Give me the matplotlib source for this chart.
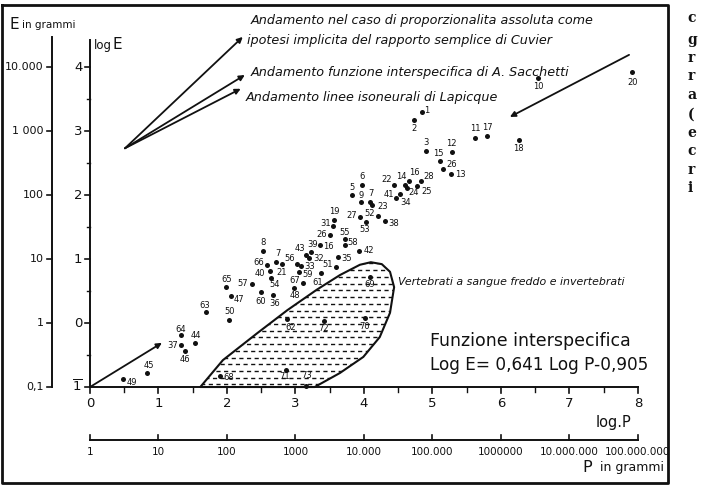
import matplotlib
matplotlib.use('Agg')
import matplotlib.pyplot as plt
from matplotlib.patches import Polygon
import numpy as np

# specie (numero), log P (peso corporeo in g), log E (peso encefalo in g)
labels = ['20', '10', '18', '11', '17', '1', '2', '3', '12', '15', '26', '13', '16', '14', '22',
          '28', '25', '24', '41', '34', '6', '5', '9', '7', '23', '19', '31', '27', '52', '53',
          '38', '26', '55', '58', '42', '16', '39', '43', '32', '35', '51', '56', '33', '59', '67',
          '61', '48', '8', '7', '66', '21', '40', '54', '57', '65', '47', '60', '36', '50', '63',
          '62', '72', '69', '70', '68', '71', '73', '44', '64', '37', '46', '45', '49']
log_p = [7.91, 6.54, 6.26, 5.62, 5.80, 4.85, 4.73, 4.91, 5.28, 5.11, 5.15, 5.27, 4.66, 4.60, 4.44,
         4.83, 4.77, 4.63, 4.53, 4.47, 3.97, 3.82, 3.96, 4.09, 4.12, 3.56, 3.55, 3.94, 4.20, 4.03,
         4.31, 3.50, 3.72, 3.72, 3.93, 3.36, 3.23, 3.15, 3.20, 3.62, 3.59, 3.02, 3.08, 3.05, 3.11,
         3.37, 2.98, 2.53, 2.72, 2.58, 2.80, 2.63, 2.64, 2.36, 1.99, 2.06, 2.50, 2.67, 2.03, 1.69,
         2.88, 3.42, 4.09, 4.01, 1.90, 2.86, 3.15, 1.53, 1.33, 1.33, 1.39, 0.83, 0.48]
log_e = [3.92, 3.83, 2.86, 2.89, 2.92, 3.30, 3.17, 2.69, 2.67, 2.53, 2.41, 2.33, 2.22, 2.16, 2.16,
         2.22, 2.14, 2.11, 2.02, 1.95, 2.16, 2.00, 1.89, 1.89, 1.84, 1.61, 1.52, 1.66, 1.67, 1.58,
         1.59, 1.38, 1.31, 1.22, 1.13, 1.22, 1.11, 1.06, 1.02, 1.03, 0.88, 0.92, 0.89, 0.80, 0.63,
         0.78, 0.55, 1.13, 0.95, 0.91, 0.92, 0.81, 0.70, 0.61, 0.56, 0.42, 0.48, 0.44, 0.05, 0.17,
         0.06, 0.03, 0.72, 0.08, -0.83, -0.73, -0.98, -0.31, -0.19, -0.34, -0.44, -0.78, -0.875]
# spostamento delle etichette (pixel)
lab_dx = [1, 0, 0, 0, 0, 5, 0, 0, 0, -2, 9, 9, 5, -4, -7, 8, 10, 7, -11, 9, 0, 0, 0, 1, 10,
          0, -8, -8, -8, -1, 8, -8, 0, 8, 10, 8, 1, -6, 9, 9, -8, -7, 9, 9, -8, -3, 1, 0, 2, -8,
          0, -10, 4, -9, 0, 8, -1, 2, 1, -1, 3, -1, 0, 0, 9, -1, 1, 1, 0, -8, 0, 2, 9]
lab_dy = [-10, -9, -9, 10, 9, 1, -8, 8, 9, 8, 4, -1, 8, 8, 5, 4, -5, -5, -1, -4, 8, 8, 7, 9, -1,
          8, 2, 1, 3, -8, -2, 0, 7, 2, 0, -2, 7, 7, -1, -1, 2, 6, 0, -3, 2, -9, -8, 8, 9, 2,
          -8, -2, -6, 0, 8, -3, -9, -9, 8, 7, -8, -7, -8, -9, -1, -7, 10, 7, 6, -1, -8, 7, -3]

# contorno della zona vertebrati a sangue freddo e invertebrati
zone_p = [1.61, 1.94, 2.44, 2.88, 3.31, 3.65, 3.94, 4.10, 4.26, 4.38, 4.44, 4.38, 4.23, 3.99, 3.65, 3.28]
zone_e = [-1.0, -0.58, -0.16, 0.20, 0.52, 0.75, 0.91, 0.95, 0.92, 0.80, 0.56, 0.16, -0.22, -0.53, -0.78, -1.0]

e_ticks = [-1, 0, 1, 2, 3, 4]
e_ticklabels = [r'$\overline{1}$', '0', '1', '2', '3', '4']
e_grams = ['0,1', '1', '10', '100', '1 000', '10.000']
p_ticks = [0, 1, 2, 3, 4, 5, 6, 7, 8]
p_grams = ['1', '10', '100', '1000', '10.000', '100.000', '1000000', '10.000.000', '100.000.000']

k = '#111111'
fig = plt.figure(figsize=(7.04, 4.9), dpi=100)
ax = fig.add_axes([0, 0, 1, 1])
ax.set_xlim(-1.314, 8.964)
ax.set_ylim(-2.609, 5.047)
ax.axis('off')

# cornice
ax.plot([-1.285, 8.438, 8.438, -1.285, -1.285], [4.97, 4.97, -2.5, -2.5, 4.97], color=k, lw=2)

# asse log E
ax.plot([0, 0], [-1, 4.42], color=k, lw=1.4)
for v, t in zip(e_ticks, e_ticklabels):
    ax.plot([-0.075, 0], [v, v], color=k, lw=1.2)
    ax.text(-0.11, v, t, ha='right', va='center', fontsize=9.5, color=k)
for v in np.arange(-0.5, 4, 1):
    ax.plot([-0.045, 0], [v, v], color=k, lw=1)
ax.text(0.05, 4.33, 'log', ha='left', va='center', fontsize=8.5, color=k)
ax.text(0.33, 4.35, 'E', ha='left', va='center', fontsize=11, color=k)

# asse E in grammi
ax.plot([-0.555, -0.555], [-1, 4.47], color=k, lw=1.4)
for v, t in zip(e_ticks, e_grams):
    ax.plot([-0.63, -0.555], [v, v], color=k, lw=1.2)
    ax.text(-0.68, v, t, ha='right', va='center', fontsize=8, color=k)
ax.text(-1.17, 4.66, 'E', ha='left', va='center', fontsize=11, color=k)
ax.text(-1.0, 4.65, 'in grammi', ha='left', va='center', fontsize=7.5, color=k)

# asse log P
ax.plot([0, 8], [-1, -1], color=k, lw=1.4)
for v in p_ticks:
    ax.plot([v, v], [-1, -1.09], color=k, lw=1.2)
    ax.text(v, -1.25, str(v), ha='center', va='center', fontsize=9.5, color=k)
for v in np.arange(0.5, 8, 1):
    ax.plot([v, v], [-1, -1.07], color=k, lw=1)
ax.text(7.64, -1.55, 'log.P', ha='center', va='center', fontsize=10.5, color=k)

# asse P in grammi
ax.plot([0, 8], [-1.83, -1.83], color=k, lw=1.4)
for v, t in zip(p_ticks, p_grams):
    ax.plot([v, v], [-1.83, -1.75], color=k, lw=1.2)
    ax.text(v, -2.02, t, ha='center', va='center', fontsize=7.5, color=k)
ax.text(7.26, -2.25, 'P', ha='center', va='center', fontsize=11.5, color=k)
ax.text(8.38, -2.26, 'in grammi', ha='right', va='center', fontsize=9, color=k)

# zona tratteggiata
zone = Polygon(np.column_stack([zone_p, zone_e]), closed=True, fill=False,
               edgecolor=k, lw=1.5, joinstyle='round')
ax.add_patch(zone)
for i, yy in enumerate(np.arange(-0.96, 0.95, 0.105)):
    ln, = ax.plot([1.5, 4.6], [yy, yy], color=k, lw=1.0,
                  linestyle=(2.5 * (i % 2), (3.0, 2.5)))
    ln.set_clip_path(zone)

# punti
ax.scatter(log_p, log_e, s=13, color=k, zorder=3, linewidths=0)
for t, x, y, dx, dy in zip(labels, log_p, log_e, lab_dx, lab_dy):
    ax.annotate(t, (x, y), xytext=(dx, dy), textcoords='offset pixels',
                ha='center', va='center', fontsize=6, color=k)

# frecce
arr = dict(arrowstyle='-|>', color=k, lw=1.3, mutation_scale=8, shrinkA=0, shrinkB=0)
for end in [(2.23, 4.47), (2.26, 3.875), (2.20, 3.66)]:
    ax.annotate('', xy=end, xytext=(0.51, 2.73), arrowprops=arr)
ax.annotate('', xy=(6.13, 3.22), xytext=(7.87, 4.19), arrowprops=arr)
ax.annotate('', xy=(1.05, -0.31), xytext=(0, -1), arrowprops=arr)

# testi
it = dict(ha='left', va='center', fontsize=9.2, style='italic', color=k)
ax.text(2.34, 4.73, 'Andamento nel caso di proporzionalita assoluta come', **it)
ax.text(2.29, 4.41, 'ipotesi implicita del rapporto semplice di Cuvier', **it)
ax.text(2.34, 3.92, 'Andamento funzione interspecifica di A. Sacchetti', **it)
ax.text(2.27, 3.53, 'Andamento linee isoneurali di Lapicque', **it)
ax.text(4.50, 0.64, 'Vertebrati a sangue freddo e invertebrati', ha='left', va='center',
        fontsize=7.9, style='italic', color=k)
ax.text(4.96, -0.28, 'Funzione interspecifica', ha='left', va='center', fontsize=12.5, color=k)
ax.text(4.96, -0.66, 'Log E= 0,641 Log P-0,905', ha='left', va='center', fontsize=12.2, color=k)

# margine della pagina accanto
for ch, yy in zip(['c', 'g', 'r', 'r', 'a', '(', 'e', 'c', 'r', 'i'],
                  [4.76, 4.42, 4.14, 3.86, 3.56, 3.25, 2.97, 2.69, 2.39, 2.11]):
    ax.text(8.72, yy, ch, ha='left', va='center', fontsize=10, family='DejaVu Serif',
            weight='bold', color=k)

plt.savefig('out.png', dpi=100)
plt.close()
